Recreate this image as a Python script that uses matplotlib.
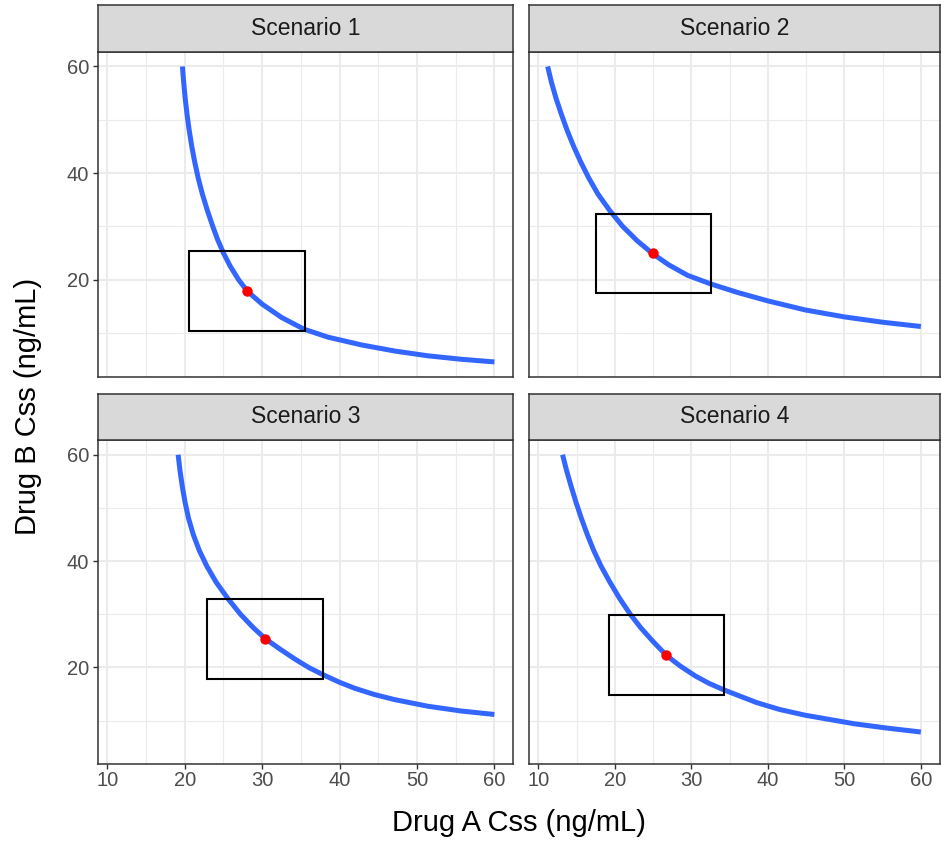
import matplotlib.pyplot as plt
from matplotlib.patches import Rectangle

plt.rcParams['font.family'] = ['Liberation Sans', 'DejaVu Sans']

scenarios = ['Scenario 1', 'Scenario 2', 'Scenario 3', 'Scenario 4']

# isobole curves: Drug A Css (x) and Drug B Css (y)
s1_a = [19.70, 19.87, 20.06, 20.30, 20.58, 20.91, 21.30, 21.75, 22.29, 22.92,
        23.62, 24.25, 25.0, 25.88, 26.95, 28.1, 30.0, 32.5, 35.4, 38.5, 42.8,
        47.1, 51.4, 55.7, 60.0]
s1_b = [60.0, 57.0, 54.0, 51.0, 48.0, 45.0, 42.0, 39.0, 36.0, 33.0,
        30.0, 27.5, 25.0, 22.5, 20.0, 17.8, 15.4, 12.9, 10.7, 9.2, 7.75,
        6.6, 5.7, 5.05, 4.55]

s2_a = [11.2, 11.7, 12.3, 13.0, 13.75, 14.6, 15.55, 16.6, 17.8, 19.3, 21.0,
        22.9, 24.9, 27.0, 29.5, 32.5, 36.0, 40.0, 44.9, 50.0, 55.0, 60.0]
s2_b = [60.0, 57.0, 54.0, 51.0, 48.0, 45.0, 42.0, 39.0, 36.0, 33.0, 30.0,
        27.3, 24.9, 22.8, 20.8, 19.2, 17.6, 16.0, 14.3, 13.0, 12.0, 11.2]

s3_a = [19.15, 19.39, 19.69, 20.05, 20.5, 21.1, 21.88, 22.87, 24.07, 25.55,
        27.2, 28.84, 30.4, 32.3, 34.2, 36.0, 37.9, 40.0, 42.0, 44.5, 47.1,
        51.4, 55.7, 60.0]
s3_b = [60.0, 57.0, 54.0, 51.0, 48.0, 45.0, 42.0, 39.0, 36.0, 33.0,
        30.0, 27.5, 25.4, 23.45, 21.6, 20.0, 18.6, 17.2, 16.05, 14.9, 13.95,
        12.7, 11.8, 11.15]

s4_a = [13.15, 13.68, 14.28, 14.92, 15.62, 16.38, 17.22, 18.2, 19.35, 20.6,
        22.0, 23.35, 24.9, 26.7, 28.5, 30.5, 32.3, 34.2, 38.5, 41.5, 44.9,
        51.3, 55.5, 60.0]
s4_b = [60.0, 57.0, 54.0, 51.0, 48.0, 45.0, 42.0, 39.0, 36.0, 33.0,
        30.0, 27.5, 25.0, 22.3, 20.3, 18.4, 17.0, 15.8, 13.4, 12.1, 11.0,
        9.4, 8.6, 7.85]

curves_a = [s1_a, s2_a, s3_a, s4_a]
curves_b = [s1_b, s2_b, s3_b, s4_b]

# red target point and the box around it
point_a = [28.0, 25.0, 30.4, 26.7]
point_b = [17.8, 24.9, 25.4, 22.3]
box_a_lo = [20.5, 17.5, 22.9, 19.2]
box_a_hi = [35.5, 32.5, 37.9, 34.2]
box_b_lo = [10.3, 17.4, 17.9, 14.8]
box_b_hi = [25.3, 32.4, 32.9, 29.8]

x_ticks = [10, 20, 30, 40, 50, 60]
x_minor = [15, 25, 35, 45, 55]
y_ticks = [20, 40, 60]
y_minor = [10, 30, 50]

# shared limits like ggplot (5% expansion of the data range)
all_a = [v for c in curves_a for v in c] + box_a_lo + box_a_hi
all_b = [v for c in curves_b for v in c] + box_b_lo + box_b_hi
xr = max(all_a) - min(all_a)
yr = max(all_b) - min(all_b)
xlim = (min(all_a) - 0.05 * xr, max(all_a) + 0.05 * xr)
ylim = (min(all_b) - 0.05 * yr, max(all_b) + 0.05 * yr)

W, H = 941, 841
fig = plt.figure(figsize=(W / 100, H / 100), dpi=100)

# panel boxes in pixels: left, right, top, bottom
cols = [(97.7, 513.3), (529.0, 939.5)]
rows = [(51.7, 376.7), (440.0, 764.3)]
strip_h = 47.5

border = '#333333'
for i in range(4):
    r, c = divmod(i, 2)
    l, rt = cols[c]
    t, b = rows[r]
    ax = fig.add_axes([l / W, 1 - b / H, (rt - l) / W, (b - t) / H])
    ax.set_xlim(xlim)
    ax.set_ylim(ylim)

    for v in x_minor:
        ax.axvline(v, color='#EBEBEB', lw=0.8, zorder=0)
    for v in y_minor:
        ax.axhline(v, color='#EBEBEB', lw=0.8, zorder=0)
    for v in x_ticks:
        ax.axvline(v, color='#EBEBEB', lw=1.5, zorder=0)
    for v in y_ticks:
        ax.axhline(v, color='#EBEBEB', lw=1.5, zorder=0)

    ax.plot(curves_a[i], curves_b[i], color='#3366FF', lw=3.6,
            solid_joinstyle='round', solid_capstyle='butt', zorder=2)
    ax.add_patch(Rectangle((box_a_lo[i], box_b_lo[i]),
                           box_a_hi[i] - box_a_lo[i], box_b_hi[i] - box_b_lo[i],
                           fill=False, edgecolor='black', lw=1.5, zorder=3))
    ax.plot(point_a[i], point_b[i], 'o', color='red', ms=7.5, mec='none', zorder=4)

    ax.set_xticks(x_ticks)
    ax.set_yticks(y_ticks)
    ax.tick_params(length=3.6, width=1.0, color=border, labelcolor='#4D4D4D',
                   labelsize=14.5, pad=2.5)
    ax.tick_params(axis='x', pad=1.5)
    if c != 0:
        ax.tick_params(axis='y', left=False, labelleft=False)
    if r != 1:
        ax.tick_params(axis='x', bottom=False, labelbottom=False)
    for s in ax.spines.values():
        s.set_color(border)
        s.set_linewidth(1.1)

    # facet strip
    st = fig.add_axes([l / W, 1 - t / H, (rt - l) / W, (strip_h - 1) / H])
    st.set_facecolor('#D9D9D9')
    st.set_xticks([])
    st.set_yticks([])
    for s in st.spines.values():
        s.set_color(border)
        s.set_linewidth(1.1)
    st.text(0.5, 0.5, scenarios[i], ha='center', va='center',
            fontsize=16.5, color='#1A1A1A', transform=st.transAxes)

fig.text(519 / W, 1 - 823 / H, 'Drug A Css (ng/mL)', ha='center', va='center',
         fontsize=21)
fig.text(28 / W, 1 - 406 / H, 'Drug B Css (ng/mL)', ha='center', va='center',
         fontsize=21, rotation=90)

plt.savefig('out.png', dpi=100)
